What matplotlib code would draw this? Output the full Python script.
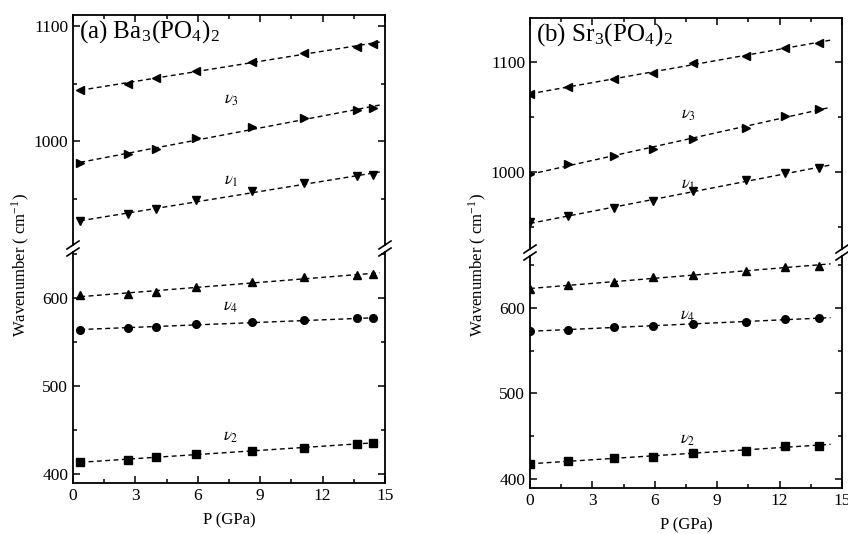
import numpy as np
import matplotlib
matplotlib.use("Agg")
from matplotlib import pyplot as plt

plt.rcParams['font.family'] = ['Liberation Serif', 'DejaVu Serif']
plt.rcParams['mathtext.fontset'] = 'stix'

# pressure points (GPa)
p_ba = [0.35, 2.65, 4.0, 5.9, 8.6, 11.1, 13.65, 14.4]
p_sr = [0.0, 1.83, 4.04, 5.9, 7.83, 10.38, 12.27, 13.9]

# Ba3(PO4)2 wavenumbers (cm-1)
ba_v3a = [1045, 1049.8, 1055, 1061.5, 1069.3, 1076.8, 1082.6, 1085]
ba_v3b = [981.7, 988.7, 993.3, 1002.9, 1012.4, 1020, 1027, 1029.3]
ba_v1 = [930.7, 937, 941, 949, 956.8, 963.7, 969.6, 971.3]
ba_v4a = [602.7, 604.5, 606.5, 612, 617.5, 623.5, 625.4, 627.3]
ba_v4b = [564, 565.6, 567.5, 569.8, 572.4, 574.7, 576.6, 576.6]
ba_v2 = [414, 416.3, 419, 422.7, 426.5, 430, 434.4, 435.6]

# Sr3(PO4)2 wavenumbers (cm-1)
sr_v3a = [1071, 1077.2, 1084.9, 1090, 1099.4, 1105.5, 1112.8, 1117.6]
sr_v3b = [997.9, 1007.6, 1014.6, 1021, 1030.4, 1040, 1051, 1057.4]
sr_v1 = [954.4, 959.6, 967.5, 973.3, 982.7, 992.4, 999.1, 1003.6]
sr_v4a = [621.5, 625.7, 630, 635, 638, 642.8, 647.5, 648.3]
sr_v4b = [572.5, 574.3, 577, 578.6, 581.3, 583, 586.5, 587.6]
sr_v2 = [418.3, 421, 424.9, 426.5, 431, 433.5, 438.9, 439.3]

W, H = 848, 534
fig = plt.figure(figsize=(W / 100, H / 100), dpi=100)


def px_axes(l, r, t, b):
    return fig.add_axes([l / W, 1 - b / H, (r - l) / W, (b - t) / H])


def series(ax, x, y, m, x_end):
    ax.plot(x, y, ls='none', marker=m, ms=5.5, color='black')
    k, c = np.polyfit(x, y, 1)
    xx = np.array([x[0], x_end])
    ax.plot(xx, k * xx + c, ls=(0, (3.5, 2.5)), lw=1, color='black')


def style(ax, ylim, major, minor, top):
    ax.set_xlim(0, 15)
    ax.set_ylim(*ylim)
    ax.set_yticks(major)
    ax.set_yticks(minor, minor=True)
    ax.set_xticks(np.arange(0, 16, 3))
    ax.set_xticks(np.arange(1.5, 15, 3), minor=True)
    for s in ax.spines.values():
        s.set_linewidth(1.3)
    ax.tick_params(which='both', direction='in', top=True, right=True,
                   labelsize=12.5, width=1.1)
    ax.tick_params(which='major', length=5)
    ax.tick_params(which='minor', length=3)
    if top:
        ax.spines['bottom'].set_visible(False)
        ax.tick_params(which='both', bottom=False, labelbottom=False)
    else:
        ax.spines['top'].set_visible(False)
        ax.tick_params(which='both', top=False)
        ax.set_xlabel('P (GPa)', fontsize=12, labelpad=6)


def slash(ax, ypos):
    d = dict(transform=ax.transAxes, color='black', lw=1.2, clip_on=False)
    bb = ax.get_position()
    dx = 6 / (bb.width * W)
    dy = 4 / (bb.height * H)
    for xs in (0, 1):
        ax.plot([xs - dx, xs + dx], [ypos - dy, ypos + dy], **d)


panels = [
    dict(l=73, r=385, up=(15, 245), lo=(252, 483), p=p_ba,
         upper=[(ba_v3a, '<'), (ba_v3b, '>'), (ba_v1, 'v')],
         lower=[(ba_v4a, '^'), (ba_v4b, 'o'), (ba_v2, 's')],
         uylim=(910, 1110), lylim=(390, 652), xend=14.75,
         title=r'(a) Ba$_\mathregular{3}$(PO$_\mathregular{4}$)$_\mathregular{2}$',
         lab=[(1036, 3), (966, 1)], lab2=[(590, 4), (442, 2)], ylx=20),
    dict(l=530, r=842, up=(18, 249), lo=(256, 488), p=p_sr,
         upper=[(sr_v3a, '<'), (sr_v3b, '>'), (sr_v1, 'v')],
         lower=[(sr_v4a, '^'), (sr_v4b, 'o'), (sr_v2, 's')],
         uylim=(930, 1140), lylim=(390, 660), xend=14.45,
         title=r'(b) Sr$_\mathregular{3}$(PO$_\mathregular{4}$)$_\mathregular{2}$',
         lab=[(1052, 3), (988, 1)], lab2=[(590, 4), (446, 2)], ylx=477),
]

for pn in panels:
    au = px_axes(pn['l'], pn['r'], *pn['up'])
    al = px_axes(pn['l'], pn['r'], *pn['lo'])
    for y, m in pn['upper']:
        series(au, pn['p'], y, m, pn['xend'])
    for y, m in pn['lower']:
        series(al, pn['p'], y, m, pn['xend'])
    style(au, pn['uylim'], [1000, 1100], [950, 1050], True)
    style(al, pn['lylim'], [400, 500, 600], [450, 550, 650], False)
    slash(au, 0)
    slash(al, 1)
    au.text(0.02, 0.985, pn['title'], transform=au.transAxes, fontsize=18,
            va='top', ha='left')
    for yv, n in pn['lab']:
        au.text(7.6, yv, r'$\nu_%d$' % n, fontsize=12, ha='center', va='center')
    for yv, n in pn['lab2']:
        al.text(7.6, yv, r'$\nu_%d$' % n, fontsize=12, ha='center', va='center')
    fig.text(pn['ylx'] / W, 1 - 265 / H, r'Wavenumber ( cm$^{\mathregular{-1}}$)',
             rotation=90, ha='center', va='center', fontsize=12)

plt.savefig('out.png', dpi=100)
